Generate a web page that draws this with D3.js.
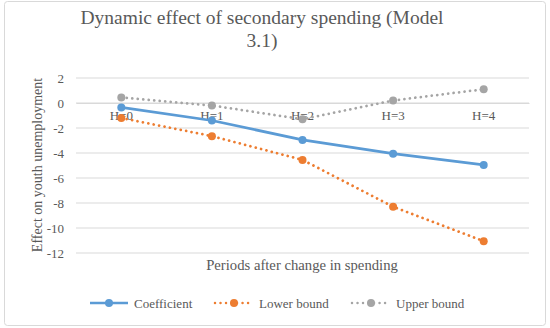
<!DOCTYPE html>
<html><head><meta charset="utf-8">
<script src="https://cdn.jsdelivr.net/npm/d3@7/dist/d3.min.js"></script>
<style>body{margin:0;background:#fff;}svg{display:block;} text{font-family:"Liberation Serif","Times New Roman",serif;}</style>
</head><body>
<svg id="c" width="550" height="328"></svg>
<script>
const categories = ["H=0","H=1","H=2","H=3","H=4"];
const coefficient = [-0.35,-1.4,-2.95,-4.05,-4.95];
const lowerBound = [-1.2,-2.65,-4.55,-8.3,-11.05];
const upperBound = [0.45,-0.2,-1.3,0.2,1.1];
const yTicks = [2,0,-2,-4,-6,-8,-10,-12];
const seriesNames = ["Coefficient","Lower bound","Upper bound"];

const FF = "Liberation Serif";
const svg = d3.select("#c");
svg.append("rect").attr("x",4.5).attr("y",1.5).attr("width",541).attr("height",324)
  .attr("fill","#fff").attr("stroke","#d9d9d9").attr("rx",3);

const x = d3.scaleBand().domain(categories).range([76,529]);
const y = d3.scaleLinear().domain([-12,2]).range([253,78]);

const g = svg.append("g");
g.selectAll("line.grid").data(yTicks).join("line")
  .attr("x1",76).attr("x2",529).attr("y1",d=>y(d)).attr("y2",d=>y(d))
  .attr("stroke","#d9d9d9").attr("stroke-width",1);

const yAxis = g.append("g").attr("transform","translate(76,0)")
  .call(d3.axisLeft(y).tickValues(yTicks).tickSize(0).tickPadding(12).tickFormat(d=>d<0?"-"+Math.abs(d):d));
yAxis.select(".domain").remove();
yAxis.selectAll("text").attr("font-size",13).attr("fill","#595959").attr("font-family",FF);

const xAxis = g.append("g").attr("transform",`translate(0,${y(0)})`)
  .call(d3.axisBottom(x).tickSize(0).tickPadding(8));
xAxis.select(".domain").attr("stroke","#d9d9d9");
xAxis.selectAll("text").attr("font-size",13).attr("fill","#595959").attr("font-family",FF);

const series = [
  {name:seriesNames[0], vals:coefficient, color:"#5B9BD5", dash:null, w:2.75},
  {name:seriesNames[1], vals:lowerBound, color:"#ED7D31", dash:"0.01,5.5", w:2.75},
  {name:seriesNames[2], vals:upperBound, color:"#A5A5A5", dash:"0.01,5.5", w:2.75}
];
const cx = c => x(c)+x.bandwidth()/2;
const line = d3.line().x((d,i)=>cx(categories[i])).y(d=>y(d));
series.forEach(s=>{
  g.append("path").datum(s.vals).attr("d",line).attr("fill","none")
    .attr("stroke",s.color).attr("stroke-width",s.w)
    .attr("stroke-dasharray",s.dash).attr("stroke-linecap",s.dash?"round":"butt");
  g.selectAll(null).data(s.vals).join("circle")
    .attr("cx",(d,i)=>cx(categories[i])).attr("cy",d=>y(d)).attr("r",4).attr("fill",s.color);
});

svg.append("text").attr("x",262).attr("y",24).attr("text-anchor","middle").attr("font-family",FF)
  .attr("font-size",19.5).attr("fill","#595959").text("Dynamic effect of secondary spending (Model");
svg.append("text").attr("x",262).attr("y",47).attr("text-anchor","middle").attr("font-family",FF)
  .attr("font-size",19.5).attr("fill","#595959").text("3.1)");
svg.append("text").attr("transform","translate(42,165) rotate(-90)").attr("text-anchor","middle").attr("font-family",FF)
  .attr("font-size",14).attr("fill","#595959").text("Effect on youth unemployment");
svg.append("text").attr("x",302).attr("y",270).attr("text-anchor","middle").attr("font-family",FF)
  .attr("font-size",14.7).attr("fill","#595959").text("Periods after change in spending");

const legX = [90,215,352];
series.forEach((s,i)=>{
  const lg = svg.append("g").attr("transform",`translate(${legX[i]},303)`);
  lg.append("line").attr("x1",0).attr("x2",38).attr("y1",0).attr("y2",0)
    .attr("stroke",s.color).attr("stroke-width",2.5).attr("stroke-dasharray",s.dash)
    .attr("stroke-linecap",s.dash?"round":"butt");
  lg.append("circle").attr("cx",19).attr("cy",0).attr("r",4).attr("fill",s.color);
  lg.append("text").attr("x",44).attr("y",4.5).attr("font-size",13).attr("font-family",FF).attr("fill","#595959").text(s.name);
});
</script>
</body></html>
